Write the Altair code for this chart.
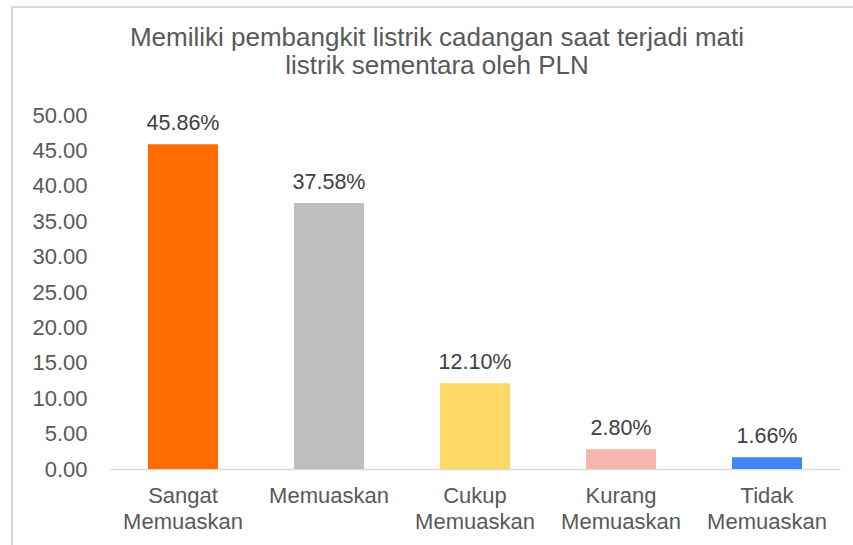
import altair as alt
import pandas as pd

categories = ["Sangat Memuaskan", "Memuaskan", "Cukup Memuaskan", "Kurang Memuaskan", "Tidak Memuaskan"]
values = [45.86, 37.58, 12.10, 2.80, 1.66]
colors = ["#FF6D01", "#BFBFBF", "#FFD966", "#F8B4AE", "#4285F4"]
y_ticks = [0, 5, 10, 15, 20, 25, 30, 35, 40, 45, 50]

df = pd.DataFrame({"cat": categories, "val": values,
                   "lab": [f"{v:.2f}%" for v in values]})

W, H = 730, 354
FONT = "Liberation Sans"

x = alt.X("cat:N", sort=categories, title=None,
          scale=alt.Scale(paddingInner=0.52, paddingOuter=0.26),
          axis=alt.Axis(labelAngle=0, labelExpr="split(datum.label, ' ')", ticks=False,
                        domainColor="#D9D9D9", domainWidth=1.5,
                        labelFont=FONT, labelFontSize=22, labelColor="#595959",
                        labelPadding=16, labelLineHeight=26, labelBaseline="top",
                        labelOverlap=False))
y = alt.Y("val:Q", title=None,
          scale=alt.Scale(domain=[0, 50], nice=False),
          axis=alt.Axis(values=y_ticks, format=".2f", grid=False, labelOverlap=False,
                        domain=False, ticks=False, labelFont=FONT, labelFontSize=22,
                        labelColor="#595959", labelPadding=23))

base = alt.Chart(df).encode(x=x, y=y)

bars = base.mark_bar().encode(
    color=alt.Color("cat:N", sort=categories, legend=None,
                    scale=alt.Scale(domain=categories, range=colors)))

text = base.mark_text(dy=-14, baseline="alphabetic", font=FONT, fontSize=21.5,
                      color="#404040").encode(text="lab:N")

border = alt.Chart(df).mark_rect(fill=None, stroke="#D9D9D9", strokeWidth=1.5, clip=False).encode(
    x=alt.value(-98), x2=alt.value(W + 40), y=alt.value(-108), y2=alt.value(H + 120))

chart = alt.layer(border, bars, text).properties(
    width=W, height=H,
    title=alt.TitleParams(["Memiliki pembangkit listrik cadangan saat terjadi mati",
                           "listrik sementara oleh PLN"],
                          font=FONT, fontSize=26, fontWeight="normal", color="#595959",
                          anchor="middle", frame="group", dx=-38, offset=-73, lineHeight=28),
    autosize=alt.AutoSizeParams(type="none"),
    padding={"left": 110, "top": 115, "right": 13, "bottom": 76},
).configure_view(stroke=None)

chart.save("out.html", embed_options={"renderer": "svg", "actions": False})
